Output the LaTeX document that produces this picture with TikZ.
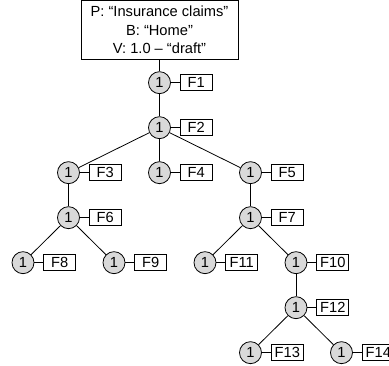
\documentclass[tikz,border=0pt]{standalone}
\usepackage{fontspec}
\setmainfont{Liberation Sans}
\usetikzlibrary{positioning}

\tikzset{
  num/.style={circle, draw, fill=black!15, minimum size=16.5pt, inner sep=0pt},
  tag/.style={draw, minimum width=24pt, minimum height=12pt, inner sep=0pt},
  infobox/.style={draw, align=center, minimum width=117.75pt, minimum height=44.25pt, inner sep=0pt},
}

\begin{document}
\begin{tikzpicture}[x=34.125pt, y=-33.75pt, font=\fontsize{11}{13.9}\selectfont,
                    line width=0.6pt, node distance=6.75pt]
\useasboundingbox (-17.25pt,62pt) rectangle (274.5pt,-212.5pt);

% fragments
\node[num] (c1)  at (3,0) {1};
\node[num] (c2)  at (3,1) {1};
\node[num] (c3)  at (1,2) {1};
\node[num] (c4)  at (3,2) {1};
\node[num] (c5)  at (5,2) {1};
\node[num] (c6)  at (1,3) {1};
\node[num] (c7)  at (5,3) {1};
\node[num] (c8)  at (0,4) {1};
\node[num] (c9)  at (2,4) {1};
\node[num] (c11) at (4,4) {1};
\node[num] (c10) at (6,4) {1};
\node[num] (c12) at (6,5) {1};
\node[num] (c13) at (5,6) {1};
\node[num] (c14) at (7,6) {1};

\node[infobox, above=8.4pt of c1] (info) {P: “Insurance claims”\\ B: “Home”\\ V: 1.0 – “draft”};

% tags
\node[tag, right=of c1]  (f1)  {F1};
\node[tag, right=of c2]  (f2)  {F2};
\node[tag, right=of c3]  (f3)  {F3};
\node[tag, right=of c4]  (f4)  {F4};
\node[tag, right=of c5]  (f5)  {F5};
\node[tag, right=of c6]  (f6)  {F6};
\node[tag, right=of c7]  (f7)  {F7};
\node[tag, right=of c8]  (f8)  {F8};
\node[tag, right=of c9]  (f9)  {F9};
\node[tag, right=of c10] (f10) {F10};
\node[tag, right=of c11] (f11) {F11};
\node[tag, right=of c12] (f12) {F12};
\node[tag, right=of c13] (f13) {F13};
\node[tag, right=of c14] (f14) {F14};

\draw (c1) -- (f1) (c2) -- (f2) (c3) -- (f3) (c4) -- (f4) (c5) -- (f5)
      (c6) -- (f6) (c7) -- (f7) (c8) -- (f8) (c9) -- (f9) (c10) -- (f10)
      (c11) -- (f11) (c12) -- (f12) (c13) -- (f13) (c14) -- (f14);

% tree edges
\draw (info) -- (c1);
\draw (c1) -- (c2);
\draw (c2) -- (c3) (c2) -- (c4) (c2) -- (c5);
\draw (c3) -- (c6);
\draw (c6) -- (c8) (c6) -- (c9);
\draw (c5) -- (c7);
\draw (c7) -- (c11) (c7) -- (c10);
\draw (c10) -- (c12);
\draw (c12) -- (c13) (c12) -- (c14);
\end{tikzpicture}
\end{document}
